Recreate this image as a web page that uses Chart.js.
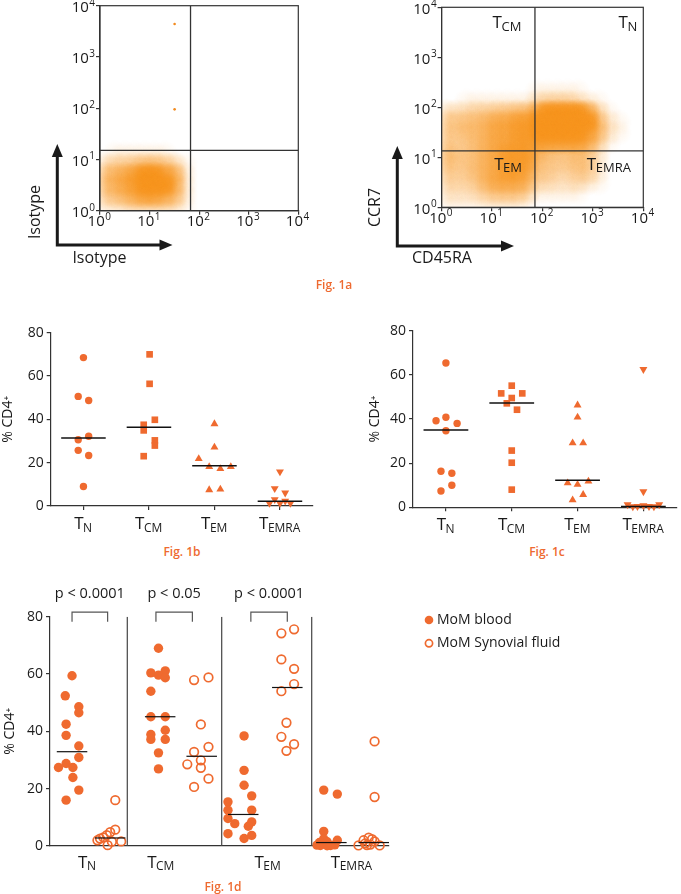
<!DOCTYPE html>
<html>
<head>
<meta charset="utf-8">
<script src="https://cdn.jsdelivr.net/npm/chart.js@4.4.0/dist/chart.umd.min.js"></script>
<style>
  body { margin: 0; background: #fff; }
  #page { position: relative; width: 681px; height: 894px; overflow: hidden; font-family: 'Open Sans', 'DejaVu Sans', sans-serif; }
  canvas { position: absolute; }
  .cap { position: absolute; color: #ee6a30; font-size: 12px; font-weight: 600; transform: translate(-50%, -50%); white-space: nowrap; line-height: 1; }
</style>
</head>
<body>
<div id="page">
  <canvas id="c1aIso" width="340" height="300" style="left:0;top:-10px"></canvas>
  <canvas id="c1aCd" width="341" height="300" style="left:340px;top:-10px"></canvas>
  <canvas id="c1b" width="340" height="230" style="left:0;top:310px"></canvas>
  <canvas id="c1c" width="341" height="230" style="left:340px;top:310px"></canvas>
  <canvas id="c1d" width="681" height="314" style="left:0;top:580px"></canvas>
  <div class="cap" style="left:334px;top:285px">Fig. 1a</div>
  <div class="cap" style="left:182px;top:552px">Fig. 1b</div>
  <div class="cap" style="left:547px;top:552px">Fig. 1c</div>
  <div class="cap" style="left:223px;top:887px">Fig. 1d</div>
</div>
<script>
const FONT = "'Open Sans', 'DejaVu Sans', sans-serif";
const ORANGE = '#ef6a2f';
const AXIS = '#333';
const INK = '#1a1a1a';

// ---- Fig 1a: flow plots, log decades ----
const decades = [1, 10, 100, 1000, 10000];
const decadeExp = ['0', '1', '2', '3', '4'];

// cell centres in log10 units (0.2 decade cells)
const isoBinX = [0.1, 0.3, 0.5, 0.7, 0.9, 1.1, 1.3, 1.5, 1.7];
const isoBinY = [0.1, 0.3, 0.5, 0.7, 0.9, 1.1];
// relative event density 0-9, rows from bottom (y 0.1) up
const isoDensity = [
  [2, 2, 3, 4, 4, 4, 4, 3, 1],
  [4, 5, 6, 7, 8, 8, 7, 6, 2],
  [5, 6, 7, 8, 9, 9, 9, 7, 2],
  [5, 6, 7, 8, 9, 9, 8, 7, 2],
  [3, 4, 4, 5, 6, 6, 5, 4, 1],
  [0, 1, 1, 1, 1, 1, 1, 0, 0]
];
const isoOutX = [32, 32];
const isoOutY = [4400, 95];
const isoGate = [67, 15];

const cdBinX = [0.1, 0.3, 0.5, 0.7, 0.9, 1.1, 1.3, 1.5, 1.7, 1.9, 2.1, 2.3, 2.5, 2.7, 2.9, 3.1, 3.3, 3.5];
const cdBinY = [0.1, 0.3, 0.5, 0.7, 0.9, 1.1, 1.3, 1.5, 1.7, 1.9, 2.1, 2.3];
const cdDensity = [
  [1, 1, 1, 1, 2, 2, 2, 2, 1, 0, 0, 0, 0, 0, 0, 0, 0, 0],
  [2, 2, 2, 3, 4, 5, 5, 5, 4, 1, 1, 1, 1, 1, 0, 0, 0, 0],
  [3, 3, 3, 4, 6, 7, 7, 7, 6, 3, 3, 2, 2, 3, 2, 1, 0, 0],
  [4, 3, 4, 5, 6, 7, 8, 8, 7, 4, 4, 3, 3, 4, 4, 2, 0, 0],
  [5, 4, 4, 5, 6, 7, 8, 8, 8, 5, 4, 4, 4, 5, 4, 2, 0, 0],
  [5, 4, 4, 5, 6, 7, 8, 8, 8, 6, 5, 4, 4, 5, 4, 2, 0, 0],
  [4, 3, 4, 5, 6, 7, 7, 8, 8, 8, 8, 8, 8, 8, 7, 4, 1, 0],
  [4, 4, 5, 5, 6, 7, 7, 8, 8, 9, 9, 9, 9, 9, 8, 6, 2, 1],
  [4, 4, 5, 5, 6, 7, 7, 8, 8, 9, 9, 9, 9, 9, 9, 6, 2, 1],
  [3, 3, 3, 4, 4, 5, 5, 6, 6, 8, 9, 9, 9, 9, 8, 4, 1, 0],
  [0, 0, 1, 1, 1, 1, 1, 1, 1, 3, 4, 4, 4, 3, 2, 1, 0, 0],
  [0, 0, 0, 0, 0, 0, 0, 0, 0, 1, 1, 1, 1, 1, 0, 0, 0, 0]
];
const cdGate = [71, 13.5];
const cdQuadLabels = [['T', 'CM'], ['T', 'N'], ['T', 'EM'], ['T', 'EMRA']];
const cdQuadX = [20, 5000, 21, 2100];
const cdQuadY = [3800, 3800, 5.6, 5.6];

// ---- Fig 1b / 1c: % CD4+ per subset ----
const subsetNames = [['T', 'N'], ['T', 'CM'], ['T', 'EM'], ['T', 'EMRA']];

const bTN = [68.5, 50.6, 48.7, 32.2, 30.6, 25.7, 23.3, 9.0];
const bTNdx = [0, -0.08, 0.08, 0.08, -0.08, -0.08, 0.08, 0];
const bTCM = [70.0, 56.4, 39.8, 37.5, 34.9, 30.3, 27.9, 23.0];
const bTCMdx = [0.01, 0.01, 0.09, -0.08, -0.08, 0.09, 0.09, -0.08];
const bTEM = [37.9, 27.1, 21.8, 18.1, 17.2, 18.1, 7.4, 7.7];
const bTEMdx = [0, 0, -0.24, -0.08, 0.09, 0.25, -0.08, 0.09];
const bTEMRA = [15.8, 8.1, 6.1, 3.0, 2.3, 1.3, 1.3, 1.3];
const bTEMRAdx = [0, -0.08, 0.08, -0.08, 0.08, -0.16, 0, 0.16];
const bMedian = [31.4, 36.4, 18.6, 2.2];

const cTN = [65.4, 40.8, 39.2, 38.0, 34.7, 16.3, 15.4, 10.0, 7.4];
const cTNdx = [0, 0, -0.15, 0.17, 0, -0.075, 0.09, 0.09, -0.075];
const cTCM = [55.1, 51.6, 51.6, 49.5, 47.1, 44.2, 25.7, 20.2, 8.0];
const cTCMdx = [0, -0.16, 0.16, 0, -0.075, 0.08, 0, 0, 0];
const cTEM = [46.3, 40.8, 29.1, 29.1, 11.0, 10.3, 11.8, 5.7, 3.3];
const cTEMdx = [0, 0, -0.075, 0.085, -0.15, 0, 0.165, 0.085, -0.075];
const cTEMRA = [62.5, 7.1, 1.2, 0.4, 0.4, 1.2, 0.3, 0.3, 0.8];
const cTEMRAdx = [0, 0, -0.24, -0.09, 0.085, 0.24, -0.16, 0.16, 0];
const cMedian = [35.0, 47.2, 12.2, 0.4];

// ---- Fig 1d: blood vs synovial fluid ----
const dTNBlood = [59.4, 52.4, 48.6, 46.5, 42.5, 38.6, 34.9, 30.9, 28.8, 27.4, 27.4, 23.9, 19.5, 16.0];
const dTNBloodX = [0.26, 0.18, 0.34, 0.34, 0.19, 0.19, 0.34, 0.34, 0.19, 0.10, 0.27, 0.27, 0.34, 0.19];
const dTNSyn = [16.0, 5.7, 4.8, 3.8, 3.0, 2.6, 2.0, 1.6, 1.5, 0.3];
const dTNSynX = [0.77, 0.77, 0.71, 0.67, 0.63, 0.59, 0.56, 0.84, 0.73, 0.68];
const dTCMBlood = [69.0, 61.1, 60.4, 59.6, 58.7, 54.0, 45.1, 45.1, 40.4, 38.9, 37.2, 37.2, 32.5, 26.9];
const dTCMBloodX = [1.28, 1.36, 1.19, 1.28, 1.36, 1.19, 1.19, 1.36, 1.36, 1.19, 1.19, 1.36, 1.28, 1.28];
const dTCMSyn = [58.8, 57.9, 42.4, 34.6, 32.8, 29.9, 28.5, 27.3, 23.5, 20.6];
const dTCMSynX = [1.87, 1.70, 1.78, 1.87, 1.70, 1.78, 1.62, 1.78, 1.87, 1.70];
const dTEMBlood = [38.4, 26.4, 21.2, 17.5, 15.4, 12.5, 12.5, 9.6, 8.4, 7.8, 6.9, 4.3, 3.7, 2.6];
const dTEMBloodX = [2.29, 2.29, 2.29, 2.38, 2.10, 2.10, 2.38, 2.10, 2.38, 2.18, 2.34, 2.10, 2.38, 2.29];
const dTEMSyn = [75.6, 74.2, 65.1, 61.8, 56.5, 54.0, 43.0, 38.1, 35.5, 33.2];
const dTEMSynX = [2.88, 2.73, 2.73, 2.88, 2.88, 2.73, 2.79, 2.73, 2.88, 2.79];
const dTEMRABlood = [19.5, 18.1, 5.1, 2.5, 2.0, 1.5, 1.2, 0.8, 0.4, 0.3, 0.2, 0.2, 0.1];
const dTEMRABloodX = [3.23, 3.39, 3.23, 3.23, 3.39, 3.27, 3.18, 3.23, 3.36, 3.15, 3.19, 3.31, 3.27];
const dTEMRASyn = [36.5, 17.1, 2.9, 2.4, 2.0, 1.6, 0.9, 0.5, 0.3, 0.2, 0.2];
const dTEMRASynX = [3.83, 3.83, 3.76, 3.80, 3.70, 3.83, 3.72, 3.78, 3.74, 3.64, 3.89];
const dBloodMedian = [32.9, 45.1, 11.0, 1.2];
const dBloodMedX = [0.26, 1.30, 2.28, 3.32];
const dSynMedian = [2.8, 31.3, 55.3, 1.2];
const dSynMedX = [0.71, 1.79, 2.80, 3.82];
const dSeparators = [0.912, 2.026, 3.088];
const dCatX = [0.44, 1.31, 2.57, 3.56];
const dBrackets = [[0.26, 0.68], [1.25, 1.68], [2.37, 2.80]];
const dPvalues = ['p < 0.0001', 'p < 0.05', 'p < 0.0001'];
const legendLabels = ['MoM blood', 'MoM Synovial fluid'];

Chart.defaults.font.family = FONT;
Chart.defaults.color = INK;
Chart.defaults.animation = false;
Chart.defaults.events = [];

// soft sprite per density level, so neighbouring cells blend into a cloud
const blobs = [];
for (let d = 0; d <= 9; d++) {
  const c = document.createElement('canvas');
  c.width = c.height = 28;
  const g = c.getContext('2d');
  const cover = 0.95 * Math.pow(d / 9, 0.75);
  const a = d === 0 ? 0 : Math.min(1, -Math.log(1 - cover) / 3);
  const grd = g.createRadialGradient(14, 14, 0, 14, 14, 14);
  grd.addColorStop(0, `rgba(247,148,29,${a})`);
  grd.addColorStop(0.5, `rgba(247,148,29,${a * 0.8})`);
  grd.addColorStop(1, 'rgba(247,148,29,0)');
  g.fillStyle = grd;
  g.fillRect(0, 0, 28, 28);
  blobs.push(c);
}

function subLabel(ctx, cx, baseY, main, sub, size, subSize) {
  ctx.save();
  ctx.fillStyle = INK;
  ctx.textAlign = 'left';
  ctx.textBaseline = 'alphabetic';
  ctx.font = `${size}px ${FONT}`;
  const w1 = ctx.measureText(main).width;
  ctx.font = `${subSize}px ${FONT}`;
  const w2 = ctx.measureText(sub).width;
  const x0 = cx - (w1 + w2) / 2;
  ctx.font = `${size}px ${FONT}`;
  ctx.fillText(main, x0, baseY);
  ctx.font = `${subSize}px ${FONT}`;
  ctx.fillText(sub, x0 + w1 - 0.5, baseY + 2.5);
  ctx.restore();
}

// "10" with a raised exponent
function powLabel(ctx, px, py, exp, align) {
  ctx.save();
  ctx.fillStyle = INK;
  ctx.textAlign = 'left';
  ctx.textBaseline = 'middle';
  ctx.font = `15px ${FONT}`;
  const w1 = ctx.measureText('10').width;
  ctx.font = `10px ${FONT}`;
  const w2 = ctx.measureText(exp).width;
  const x0 = align === 'right' ? px - w1 - w2 - 0.5 : px - (w1 + w2) / 2;
  ctx.font = `15px ${FONT}`;
  ctx.fillText('10', x0, py);
  ctx.font = `10px ${FONT}`;
  ctx.fillText(exp, x0 + w1 + 0.5, py - 5);
  ctx.restore();
}

function vText(ctx, txt, x, y, size) {
  ctx.save();
  ctx.translate(x, y);
  ctx.rotate(-Math.PI / 2);
  ctx.font = `${size}px ${FONT}`;
  ctx.fillStyle = INK;
  ctx.textAlign = 'center';
  ctx.textBaseline = 'middle';
  ctx.fillText(txt, 0, 0);
  ctx.restore();
}

function hText(ctx, txt, x, y, size, align) {
  ctx.save();
  ctx.font = `${size}px ${FONT}`;
  ctx.fillStyle = INK;
  ctx.textAlign = align || 'center';
  ctx.textBaseline = 'middle';
  ctx.fillText(txt, x, y);
  ctx.restore();
}

function arrowAxes(ctx, cx, cy, topY, rightX) {
  ctx.save();
  ctx.strokeStyle = INK;
  ctx.fillStyle = INK;
  ctx.lineWidth = 3;
  ctx.lineJoin = 'miter';
  ctx.beginPath();
  ctx.moveTo(cx, topY + 10);
  ctx.lineTo(cx, cy);
  ctx.lineTo(rightX - 10, cy);
  ctx.stroke();
  ctx.beginPath();
  ctx.moveTo(cx, topY); ctx.lineTo(cx - 5.5, topY + 13); ctx.lineTo(cx + 5.5, topY + 13);
  ctx.closePath(); ctx.fill();
  ctx.beginPath();
  ctx.moveTo(rightX, cy); ctx.lineTo(rightX - 13, cy - 5.5); ctx.lineTo(rightX - 13, cy + 5.5);
  ctx.closePath(); ctx.fill();
  ctx.restore();
}

function logAxis(fit) {
  return {
    type: 'logarithmic', min: 1, max: 10000,
    afterBuildTicks: (s) => { s.ticks = decades.map((v) => ({ value: v })); },
    afterFit: fit,
    ticks: { autoSkip: false, maxRotation: 0, callback: () => '' },
    grid: { drawOnChartArea: false, tickLength: 4, color: AXIS, lineWidth: 1.2 },
    border: { color: AXIS, width: 1.2 }
  };
}

function flowChart(id, density, binsX, binsY, gate, extraX, extraY, pad, yW, xH, decorate) {
  const cells = [];
  density.forEach((row, i) => row.forEach((d, j) => {
    if (d > 0) cells.push({ x: 10 ** binsX[j], y: 10 ** binsY[i], d });
  }));
  const lineStyle = { showLine: true, borderColor: AXIS, borderWidth: 1.3, pointRadius: 0, order: 0 };
  return new Chart(document.getElementById(id), {
    type: 'scatter',
    data: {
      datasets: [
        Object.assign({ data: [{ x: gate[0], y: 1 }, { x: gate[0], y: 10000 }] }, lineStyle),
        Object.assign({ data: [{ x: 1, y: gate[1] }, { x: 10000, y: gate[1] }] }, lineStyle),
        { data: extraX.map((x, k) => ({ x, y: extraY[k] })), pointRadius: 1.3, borderWidth: 0,
          backgroundColor: '#f28a1e', order: 1 },
        { data: cells, pointRadius: 7, borderWidth: 0, order: 2,
          pointStyle: (c) => blobs[c.raw ? c.raw.d : 0] }
      ]
    },
    options: {
      responsive: false, devicePixelRatio: 1,
      layout: { padding: pad },
      plugins: { legend: { display: false }, tooltip: { enabled: false } },
      scales: {
        x: logAxis((s) => { s.height = xH; }),
        y: logAxis((s) => { s.width = yW; })
      }
    },
    plugins: [{
      id: 'flowDecor',
      afterDatasetsDraw(chart) {
        const { ctx, chartArea: a, scales } = chart;
        ctx.save();
        ctx.strokeStyle = AXIS;
        ctx.lineWidth = 1.2;
        ctx.strokeRect(a.left, a.top, a.right - a.left, a.bottom - a.top);
        ctx.restore();
        decades.forEach((v, i) => {
          powLabel(ctx, scales.x.getPixelForValue(v) - 1, a.bottom + 11, decadeExp[i], 'center');
          powLabel(ctx, a.left - 5, scales.y.getPixelForValue(v) + 2, decadeExp[i], 'right');
        });
        decorate(chart);
      }
    }]
  });
}

flowChart('c1aIso', isoDensity, isoBinX, isoBinY, isoGate, isoOutX, isoOutY,
  { top: 15.7, right: 41.7, bottom: 0, left: 0 }, 100, 79.3, (chart) => {
    const ctx = chart.ctx;
    arrowAxes(ctx, 57.3, 255, 154, 172.5);
    vText(ctx, 'Isotype', 35, 222, 16);
    hText(ctx, 'Isotype', 99.5, 268, 16);
  });

flowChart('c1aCd', cdDensity, cdBinX, cdBinY, cdGate, [], [],
  { top: 17.3, right: 37.7, bottom: 0, left: 0 }, 101.6, 82.7, (chart) => {
    const ctx = chart.ctx;
    const sx = chart.scales.x, sy = chart.scales.y;
    cdQuadLabels.forEach((l, i) => {
      subLabel(ctx, sx.getPixelForValue(cdQuadX[i]), sy.getPixelForValue(cdQuadY[i]), l[0], l[1], 17, 13);
    });
    arrowAxes(ctx, 57.3, 256, 156, 174);
    vText(ctx, 'CCR7', 35, 217.5, 16);
    hText(ctx, 'CD45RA', 102, 268, 16);
  });

function pctAxis(fit) {
  return {
    min: 0, max: 80, afterFit: fit,
    ticks: { stepSize: 20, padding: 3, font: { size: 14 }, color: INK },
    grid: { drawOnChartArea: false, tickLength: 4, color: AXIS, lineWidth: 1.2 },
    border: { color: AXIS, width: 1.2 }
  };
}

const markerStyles = [
  { s: 'circle', r: 0, rad: 3.7 },
  { s: 'rect', r: 0, rad: 4.7 },
  { s: 'triangle', r: 0, rad: 4.6 },
  { s: 'triangle', r: 180, rad: 4.6 }
];

function dotChart(id, groups, medians, pad, yW, xH, titleOff, labelOff) {
  const datasets = [];
  groups.forEach((g, i) => {
    const st = markerStyles[i];
    datasets.push({
      data: g.v.map((v, k) => ({ x: i + 1 + g.dx[k], y: v })),
      pointStyle: st.s, pointRotation: st.r, pointRadius: st.rad,
      backgroundColor: ORANGE, borderWidth: 0, clip: false, order: 2
    });
    datasets.push({
      data: [{ x: i + 1 - 0.34, y: medians[i] }, { x: i + 1 + 0.34, y: medians[i] }],
      showLine: true, borderColor: '#111', borderWidth: 1.5, pointRadius: 0, clip: false, order: 0
    });
  });
  return new Chart(document.getElementById(id), {
    type: 'scatter',
    data: { datasets },
    options: {
      responsive: false, devicePixelRatio: 1,
      layout: { padding: pad },
      plugins: { legend: { display: false }, tooltip: { enabled: false } },
      scales: {
        x: {
          type: 'linear', min: 0.5, max: 4.5,
          afterBuildTicks: (s) => { s.ticks = [1, 2, 3, 4].map((v) => ({ value: v })); },
          afterFit: (s) => { s.height = xH; },
          ticks: { callback: () => '' },
          grid: { drawOnChartArea: false, tickLength: 4, color: AXIS, lineWidth: 1.2 },
          border: { color: AXIS, width: 1.2 }
        },
        y: pctAxis((s) => { s.width = yW; })
      }
    },
    plugins: [{
      id: 'dotDecor',
      afterDraw(chart) {
        const { ctx, chartArea: a, scales } = chart;
        vText(ctx, '% CD4\u207a', a.left - titleOff, (a.top + a.bottom) / 2, 14);
        subsetNames.forEach((n, i) => {
          subLabel(ctx, scales.x.getPixelForValue(i + 1), a.bottom + labelOff, n[0], n[1], 17, 12);
        });
      }
    }]
  });
}

dotChart('c1b', [
  { v: bTN, dx: bTNdx }, { v: bTCM, dx: bTCMdx }, { v: bTEM, dx: bTEMdx }, { v: bTEMRA, dx: bTEMRAdx }
], bMedian, { top: 22.7, right: 27.3, bottom: 0, left: 0 }, 50.7, 34, 43, 23.3);

dotChart('c1c', [
  { v: cTN, dx: cTNdx }, { v: cTCM, dx: cTCMdx }, { v: cTEM, dx: cTEMdx }, { v: cTEMRA, dx: cTEMRAdx }
], cMedian, { top: 20.7, right: 3, bottom: 0, left: 0 }, 73, 32.7, 38, 22.7);

// Fig 1d
const bloodGroups = [[dTNBlood, dTNBloodX], [dTCMBlood, dTCMBloodX], [dTEMBlood, dTEMBloodX], [dTEMRABlood, dTEMRABloodX]];
const synGroups = [[dTNSyn, dTNSynX], [dTCMSyn, dTCMSynX], [dTEMSyn, dTEMSynX], [dTEMRASyn, dTEMRASynX]];
const pairs = (vals, xs) => vals.map((v, k) => ({ x: xs[k], y: v }));

const dDatasets = [];
dDatasets.push({
  label: legendLabels[0],
  data: bloodGroups.flatMap((g) => pairs(g[0], g[1])),
  pointRadius: 4.7, backgroundColor: ORANGE, borderWidth: 0, clip: false, order: 3
});
dDatasets.push({
  label: legendLabels[1],
  data: synGroups.flatMap((g) => pairs(g[0], g[1])),
  pointRadius: 4.3, backgroundColor: 'rgba(255,255,255,0)', borderColor: ORANGE, borderWidth: 1.7,
  clip: false, order: 2
});
dBloodMedian.forEach((m, i) => dDatasets.push({
  data: [{ x: dBloodMedX[i] - 0.18, y: m }, { x: dBloodMedX[i] + 0.18, y: m }],
  showLine: true, borderColor: '#111', borderWidth: 1.2, pointRadius: 0, clip: false, order: 0
}));
dSynMedian.forEach((m, i) => dDatasets.push({
  data: [{ x: dSynMedX[i] - 0.18, y: m }, { x: dSynMedX[i] + 0.18, y: m }],
  showLine: true, borderColor: '#111', borderWidth: 1.2, pointRadius: 0, clip: false, order: 0
}));
dSeparators.forEach((sx) => dDatasets.push({
  data: [{ x: sx, y: 0 }, { x: sx, y: 80 }],
  showLine: true, borderColor: '#444', borderWidth: 1.2, pointRadius: 0, order: 1
}));
dBrackets.forEach((b) => dDatasets.push({
  data: [{ x: b[0], y: 78.2 }, { x: b[0], y: 81.6 }, { x: b[1], y: 81.6 }, { x: b[1], y: 78.2 }],
  showLine: true, borderColor: '#555', borderWidth: 1.2, pointRadius: 0, clip: false, order: 1
}));

new Chart(document.getElementById('c1d'), {
  type: 'scatter',
  data: { datasets: dDatasets },
  options: {
    responsive: false, devicePixelRatio: 1,
    layout: { padding: { top: 36.7, right: 292, bottom: 0, left: 0 } },
    plugins: { legend: { display: false }, tooltip: { enabled: false } },
    scales: {
      x: {
        type: 'linear', min: 0, max: 4,
        afterFit: (s) => { s.height = 48; },
        ticks: { display: false },
        grid: { drawOnChartArea: false, drawTicks: false, tickLength: 0, color: AXIS, lineWidth: 1.2 },
        border: { color: AXIS, width: 1.2 }
      },
      y: pctAxis((s) => { s.width = 50; })
    }
  },
  plugins: [{
    id: 'd1Decor',
    afterDraw(chart) {
      const { ctx, chartArea: a, scales } = chart;
      vText(ctx, '% CD4\u207a', a.left - 40, (a.top + a.bottom) / 2, 14);
      subsetNames.forEach((n, i) => {
        subLabel(ctx, scales.x.getPixelForValue(dCatX[i]), a.bottom + 21.7, n[0], n[1], 17, 12);
      });
      dBrackets.forEach((b, i) => {
        hText(ctx, dPvalues[i], scales.x.getPixelForValue((b[0] + b[1]) / 2), scales.y.getPixelForValue(88), 14.5);
      });
      // legend
      const lx = a.right + 40;
      const ly = [a.top + 3.3, a.top + 26.6];
      ctx.save();
      ctx.fillStyle = ORANGE;
      ctx.beginPath(); ctx.arc(lx, ly[0], 4.3, 0, Math.PI * 2); ctx.fill();
      ctx.strokeStyle = ORANGE; ctx.lineWidth = 1.7;
      ctx.beginPath(); ctx.arc(lx, ly[1], 3.6, 0, Math.PI * 2); ctx.stroke();
      ctx.restore();
      legendLabels.forEach((t, i) => hText(ctx, t, lx + 8, ly[i], 14, 'left'));
    }
  }]
});
</script>
</body>
</html>
